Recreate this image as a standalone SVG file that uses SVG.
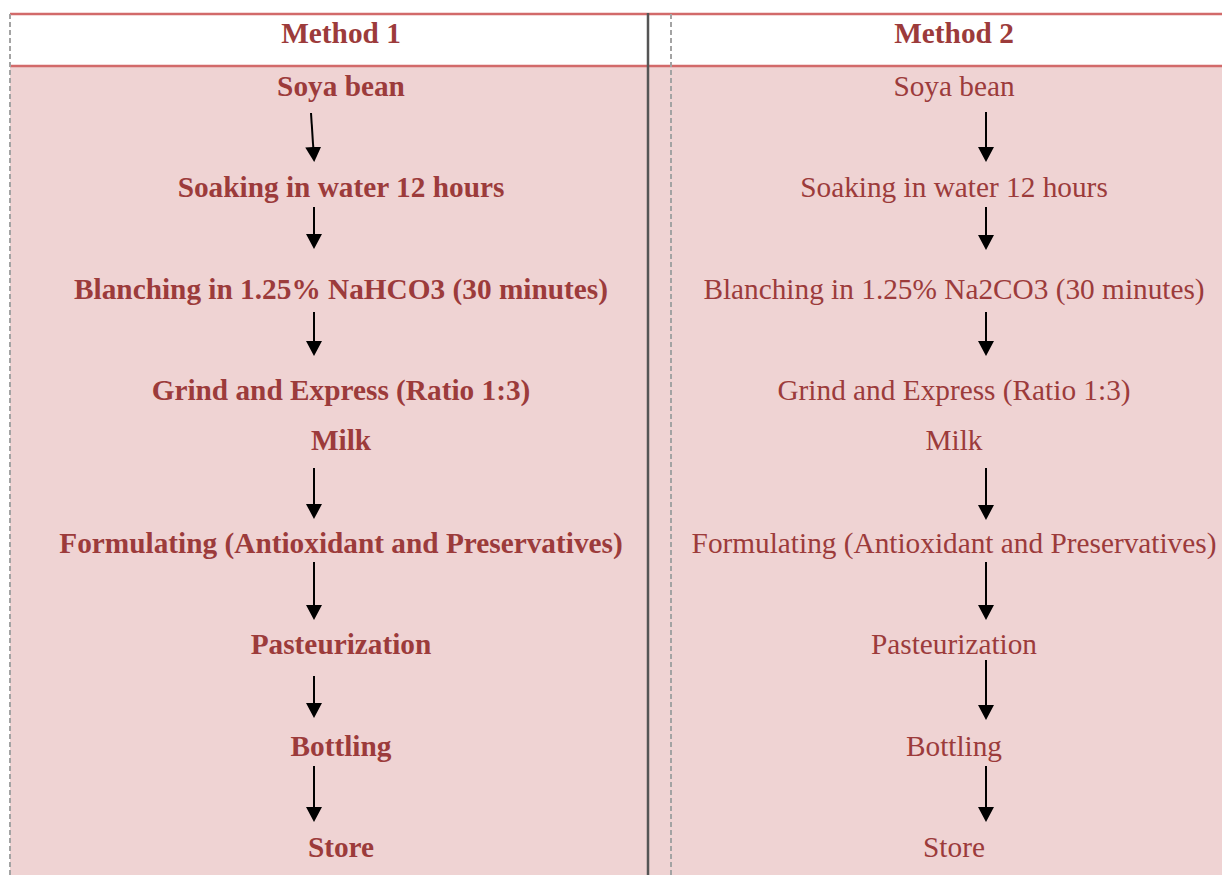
<svg xmlns="http://www.w3.org/2000/svg" width="1222" height="875" viewBox="0 0 1222 875">
  <style>
    .t { font-family: "Liberation Serif", "Times New Roman", serif; font-size: 29.3px; fill: #9C3B3B; text-anchor: middle; }
    .b { font-weight: bold; }
    .arr { stroke: #000; stroke-width: 2; fill: none; marker-end: url(#ah); }
    .hdr { stroke: #D26A6A; stroke-width: 2.5; }
    .dash { stroke: #A3A3A3; stroke-width: 2; stroke-dasharray: 5 3; }
  </style>
  <defs>
    <marker id="ah" viewBox="0 0 15 16" refX="1" refY="8" markerWidth="15" markerHeight="16" markerUnits="userSpaceOnUse" orient="auto">
      <path d="M0,0 L15,8 L0,16 Z" fill="#000"/>
    </marker>
  </defs>

  <g id="background">
    <rect x="0" y="0" width="1222" height="875" fill="#FFFFFF"/>
    <rect x="10" y="66" width="1212" height="809" fill="#EFD3D3"/>
    <line class="hdr" x1="10" y1="14" x2="1222" y2="14"/>
    <line class="hdr" x1="10" y1="66" x2="1222" y2="66"/>
    <line class="dash" x1="10" y1="14" x2="10" y2="875"/>
    <line class="dash" x1="671" y1="14" x2="671" y2="875"/>
    <line x1="648" y1="13" x2="648" y2="875" stroke="#555555" stroke-width="2.5"/>
  </g>

  <g id="header-method1"><text class="t b" x="341" y="43">Method 1</text></g>
  <g id="header-method2"><text class="t b" x="954" y="43">Method 2</text></g>

  <g id="m1-soya"><text class="t b" x="341" y="96">Soya bean</text></g>
  <g id="m1-soaking"><text class="t b" x="341" y="197">Soaking in water 12 hours</text></g>
  <g id="m1-blanching"><text class="t b" x="341" y="299">Blanching in 1.25% NaHCO3 (30 minutes)</text></g>
  <g id="m1-grind"><text class="t b" x="341" y="400">Grind and Express (Ratio 1:3)</text></g>
  <g id="m1-milk"><text class="t b" x="341" y="450">Milk</text></g>
  <g id="m1-formulating"><text class="t b" x="341" y="553">Formulating (Antioxidant and Preservatives)</text></g>
  <g id="m1-pasteurization"><text class="t b" x="341" y="654">Pasteurization</text></g>
  <g id="m1-bottling"><text class="t b" x="341" y="756">Bottling</text></g>
  <g id="m1-store"><text class="t b" x="341" y="857">Store</text></g>

  <g id="m2-soya"><text class="t" x="954" y="96">Soya bean</text></g>
  <g id="m2-soaking"><text class="t" x="954" y="197">Soaking in water 12 hours</text></g>
  <g id="m2-blanching"><text class="t" x="954" y="299">Blanching in 1.25% Na2CO3 (30 minutes)</text></g>
  <g id="m2-grind"><text class="t" x="954" y="400">Grind and Express (Ratio 1:3)</text></g>
  <g id="m2-milk"><text class="t" x="954" y="450">Milk</text></g>
  <g id="m2-formulating"><text class="t" x="954" y="553">Formulating (Antioxidant and Preservatives)</text></g>
  <g id="m2-pasteurization"><text class="t" x="954" y="654">Pasteurization</text></g>
  <g id="m2-bottling"><text class="t" x="954" y="756">Bottling</text></g>
  <g id="m2-store"><text class="t" x="954" y="857">Store</text></g>

  <g id="connectors">
    <line class="arr" x1="311" y1="113" x2="313.3" y2="148"/>
    <line class="arr" x1="314" y1="207" x2="314" y2="235"/>
    <line class="arr" x1="314" y1="312" x2="314" y2="342"/>
    <line class="arr" x1="314" y1="468" x2="314" y2="505"/>
    <line class="arr" x1="314" y1="562" x2="314" y2="606"/>
    <line class="arr" x1="314" y1="676" x2="314" y2="704"/>
    <line class="arr" x1="314" y1="766" x2="314" y2="808"/>

    <line class="arr" x1="986" y1="112" x2="986" y2="148"/>
    <line class="arr" x1="986" y1="207" x2="986" y2="236"/>
    <line class="arr" x1="986" y1="312" x2="986" y2="342"/>
    <line class="arr" x1="986" y1="468" x2="986" y2="506"/>
    <line class="arr" x1="986" y1="562" x2="986" y2="606"/>
    <line class="arr" x1="986" y1="660" x2="986" y2="706"/>
    <line class="arr" x1="986" y1="766" x2="986" y2="808"/>
  </g>
</svg>
